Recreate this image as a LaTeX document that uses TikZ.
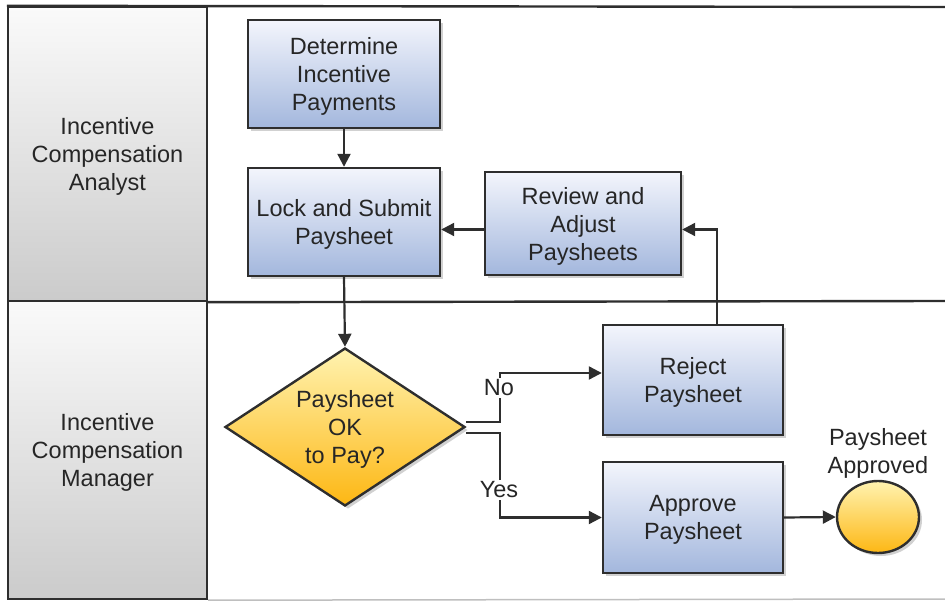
\documentclass[tikz,border=0pt]{standalone}
\usepackage{fontspec}
\setmainfont{Liberation Sans}
\usetikzlibrary{arrows.meta,shapes.geometric,shadows}

\definecolor{ink}{HTML}{262626}
\definecolor{edge}{HTML}{2E2E2E}
\definecolor{boxtop}{HTML}{F3F5FC}
\definecolor{boxbot}{HTML}{A3B7DD}
\definecolor{goldtop}{HTML}{FFF3B0}
\definecolor{goldbot}{HTML}{FDB714}
\definecolor{lanetop}{HTML}{FAFAFA}
\definecolor{lanebot}{HTML}{CBCBCB}

\tikzset{
  txt/.style={font=\fontsize{23.5}{28}\selectfont, text=ink, align=center},
  boxtext/.style={txt, text depth=-1pt},
  lanehead/.style={boxtext, draw=edge, line width=2.4pt, shading=axis,
    top color=lanetop, bottom color=lanebot, inner sep=0pt,
    minimum width=199pt},
  task/.style={boxtext, draw=edge, line width=2.4pt, shading=axis,
    top color=boxtop, bottom color=boxbot, inner sep=0pt,
    drop shadow={shadow xshift=3pt, shadow yshift=-3pt, opacity=0.3, fill=black!60}},
  gate/.style={boxtext, diamond, aspect=1.52, draw=edge, line width=2.4pt, shading=axis,
    top color=goldtop, bottom color=goldbot, inner sep=0pt,
    minimum width=240pt, minimum height=158pt,
    drop shadow={shadow xshift=3pt, shadow yshift=-3pt, opacity=0.3, fill=black!60}},
  endevent/.style={ellipse, draw=edge, line width=2.4pt, shading=axis,
    top color=goldtop, bottom color=goldbot, inner sep=0pt,
    minimum width=82pt, minimum height=72pt,
    drop shadow={shadow xshift=3pt, shadow yshift=-3pt, opacity=0.3, fill=black!60}},
  flow/.style={draw=edge, line width=2.2pt,
    -{Triangle[length=13pt,width=13pt]}},
  lbl/.style={txt, fill=white, inner sep=1.5pt},
  lane/.style={draw=edge, line width=2.4pt},
}

\begin{document}
\begin{tikzpicture}[x=1pt, y=-1pt]
  \useasboundingbox (0,0) rectangle (945,601);

  % swimlane frame
  \node[lanehead, minimum height=294pt] (hA) at (107.5,154)
    {Incentive\\Compensation\\Analyst};
  \node[lanehead, minimum height=298pt] (hM) at (107.5,450)
    {Incentive\\Compensation\\Manager};
  \draw[lane] (hA.north west) -- (945,7);
  \draw[lane] (hA.south east) -- (945,301);
  \draw[draw=black!25, line width=1.5pt] (hM.south east) -- (945,599);

  % activities
  \node[task, minimum width=192pt, minimum height=108pt] (det) at (344,74)
    {Determine\\Incentive\\Payments};
  \node[task, minimum width=192pt, minimum height=108pt] (lock) at (344,222)
    {Lock and Submit\\Paysheet};
  \node[task, minimum width=196pt, minimum height=103pt] (rev) at (583,223.5)
    {Review and\\Adjust\\Paysheets};
  \node[task, minimum width=180pt, minimum height=110pt] (rej) at (693,380)
    {Reject\\Paysheet};
  \node[task, minimum width=180pt, minimum height=111pt] (app) at (693,517.5)
    {Approve\\Paysheet};
  \node[gate] (dia) at (345,427) {Paysheet\\OK\\to Pay?};
  \node[endevent] (done) at (878,517) {};
  \node[txt, anchor=south, inner sep=0pt] (donelbl) at ([yshift=1pt]done.north)
    {Paysheet\\Approved};

  % exits of the decision
  \coordinate (nout) at ([yshift=5pt]dia.east);
  \coordinate (yout) at ([yshift=-6pt]dia.east);

  % sequence flows
  \draw[flow] (det.south) -- (lock.north);
  \draw[flow] (lock.south) -- (dia.north);
  \draw[flow] ([yshift=-6pt]rev.west) -- ([yshift=-6pt]rev.west -| lock.east);
  \draw[flow] ([xshift=24pt]rej.north) |- ([yshift=-6pt]rev.east);
  \draw[flow] (nout) -- ++(34,0) |- ([yshift=7pt]rej.west);
  \draw[flow] (yout) -- ++(34,0) |- (app.west);
  \draw[flow] (app.east) -- (done.west);

  % branch labels
  \node[lbl] (no) at (499,388) {No};
  \node[lbl] (yes) at (499,490) {Yes};
\end{tikzpicture}
\end{document}
